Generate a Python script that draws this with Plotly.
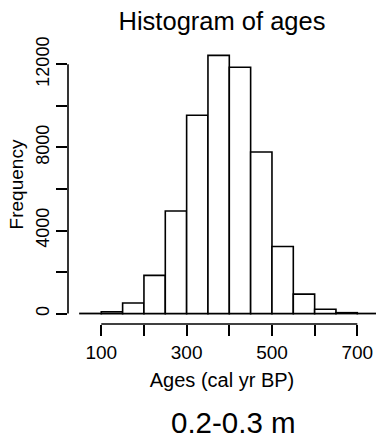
import plotly.graph_objects as go

# Data (bin width 50)
bin_edges = [50, 100, 150, 200, 250, 300, 350, 400, 450, 500, 550, 600, 650, 700, 750]
counts = [10, 90, 510, 1840, 4940, 9550, 12430, 11860, 7780, 3230, 940, 210, 45, 8]
x_tick_vals = [100, 200, 300, 400, 500, 600, 700]
x_tick_text = ["100", "", "300", "", "500", "", "700"]
y_tick_vals = [0, 2000, 4000, 6000, 8000, 10000, 12000]
y_tick_text = ["0", "", "4000", "", "8000", "", "12000"]

centers = [(a + b) / 2 for a, b in zip(bin_edges[:-1], bin_edges[1:])]
widths = [b - a for a, b in zip(bin_edges[:-1], bin_edges[1:])]

FONT = "Liberation Sans, Arial, Helvetica, sans-serif"

fig = go.Figure()
fig.add_trace(go.Bar(
    x=centers, y=counts, width=widths,
    marker=dict(color="white", line=dict(color="black", width=1.6)),
    hoverinfo="x+y",
))

W, H = 376, 442
ml, mt, mb = 68, 44.7, 117.6
pw = W - ml
ph = H - mt - mb

fig.update_layout(
    width=W, height=H,
    margin=dict(l=ml, r=0, t=mt, b=mb, pad=0),
    paper_bgcolor="white", plot_bgcolor="white",
    showlegend=False,
    font=dict(family=FONT, color="black"),
    title=dict(text="Histogram of ages", x=222 / W, xanchor="center",
               y=1 - 21 / H, yanchor="middle", yref="container",
               font=dict(size=25.5, color="black", family=FONT)),
    xaxis=dict(range=[22, 743.8], tickvals=x_tick_vals, ticktext=x_tick_text,
               ticks="outside", ticklen=11, tickwidth=1.6, tickcolor="black",
               showline=False, showgrid=False, zeroline=False,
               tickfont=dict(size=19, color="black"),
               title=dict(text="Ages (cal yr BP)", font=dict(size=20, color="black"), standoff=11)),
    yaxis=dict(range=[-500, 12930], tickvals=y_tick_vals, ticktext=y_tick_text,
               ticks="outside", ticklen=11, tickwidth=1.6, tickcolor="black",
               tickangle=-90,
               showline=False, showgrid=False, zeroline=False,
               tickfont=dict(size=18, color="black"),
               title=dict(text="Frequency", font=dict(size=19, color="black"), standoff=4)),
    annotations=[dict(text="0.2-0.3 m", x=(233 - ml) / pw, xref="paper", xanchor="center",
                      y=-(423 - (H - mb)) / ph, yref="paper", yanchor="middle",
                      showarrow=False, font=dict(size=29.5, color="black", family=FONT))],
    shapes=[
        dict(type="line", xref="x", yref="paper", x0=min(x_tick_vals), x1=max(x_tick_vals),
             y0=0, y1=0, line=dict(color="black", width=1.6)),
        dict(type="line", xref="paper", yref="y", x0=0, x1=0,
             y0=min(y_tick_vals), y1=max(y_tick_vals), line=dict(color="black", width=1.6)),
    ],
)

fig.write_html("out.html")
